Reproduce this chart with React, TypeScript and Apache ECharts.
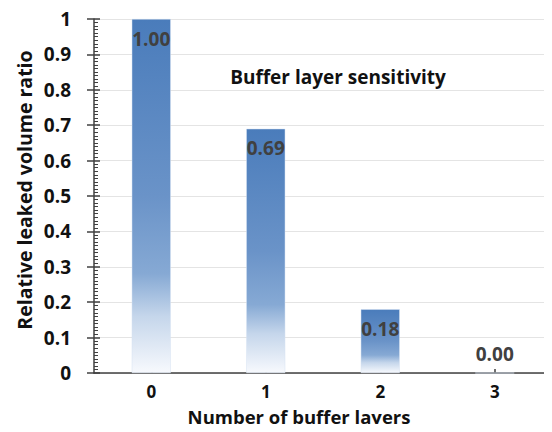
import React, { useEffect, useRef } from "react";
import * as echarts from "echarts";

// Buffer layer count vs. relative leaked volume
const layerCounts = ["0", "1", "2", "3"];
const leakedRatio = [1.0, 0.69, 0.18, 0.0];
const yTicks = { min: 0, max: 1, step: 0.1 };

const chartTitle = "Buffer layer sensitivity";
const xTitle = "Number of buffer layers";
const yTitle = "Relative leaked volume ratio";

const FONT = "'Open Sans', 'Noto Sans', sans-serif";

export default function App() {
  const ref = useRef<HTMLDivElement>(null);

  useEffect(() => {
    if (!ref.current) return;
    const chart = echarts.init(ref.current, null, { renderer: "svg" });

    const barFill = new echarts.graphic.LinearGradient(0, 0, 0, 1, [
      { offset: 0, color: "#4a7cbb" },
      { offset: 0.5, color: "#6a93c8" },
      { offset: 0.72, color: "#86a9d4" },
      { offset: 0.84, color: "#c5d6eb" },
      { offset: 1, color: "#f7f9fd" },
    ]);

    const grid = { left: 94, top: 19, bottom: 59, right: -10 };

    chart.setOption({
      animation: false,
      backgroundColor: "#ffffff",
      grid,
      xAxis: {
        type: "category",
        data: layerCounts,
        axisLine: { lineStyle: { color: "#404040", width: 1.5 } },
        axisTick: {
          show: true,
          inside: true,
          alignWithLabel: true,
          length: 4,
          lineStyle: { color: "#404040", width: 1.5 },
        },
        axisLabel: {
          fontFamily: FONT,
          fontWeight: "bold",
          fontSize: 17,
          color: "#111111",
          margin: 10,
        },
        splitLine: { show: false },
      },
      yAxis: [
        {
          type: "value",
          min: yTicks.min,
          max: yTicks.max,
          interval: yTicks.step,
          axisLine: { show: true, lineStyle: { color: "#404040", width: 1.5 } },
          axisTick: {
            show: true,
            inside: false,
            length: 7,
            lineStyle: { color: "#404040", width: 1.5 },
          },
          axisLabel: {
            fontFamily: FONT,
            fontWeight: "bold",
            fontSize: 19,
            color: "#111111",
            margin: 23,
            formatter: (v: number) => String(Math.round(v * 10) / 10),
          },
          splitLine: { show: true, lineStyle: { color: "#e4e4e4", width: 1 } },
        },
        {
          // overlay axis: inner half of the major ticks plus minor ticks
          type: "value",
          position: "left",
          min: yTicks.min,
          max: yTicks.max,
          interval: yTicks.step,
          axisLine: { show: false },
          axisLabel: { show: false },
          splitLine: { show: false },
          axisTick: {
            show: true,
            inside: true,
            length: 6,
            lineStyle: { color: "#404040", width: 1.5 },
          },
          minorTick: {
            show: true,
            splitNumber: 10,
            length: 4,
            lineStyle: { color: "#404040", width: 1 },
          },
        },
      ],
      series: [
        {
          type: "bar",
          yAxisIndex: 0,
          barWidth: 39,
          itemStyle: { color: barFill, borderColor: "#d6e2f2", borderWidth: 0.5 },
          label: {
            show: true,
            position: "insideTop",
            distance: 10,
            fontFamily: FONT,
            fontWeight: "bold",
            fontSize: 19,
            color: "#404040",
            formatter: (p: any) => Number(p.value).toFixed(2),
          },
          data: leakedRatio.map((v) =>
            v === 0 ? { value: v, label: { position: "top", distance: 9 } } : { value: v }
          ),
        },
      ],
      graphic: [
        {
          type: "text",
          x: 338,
          y: 77,
          style: {
            text: chartTitle,
            fontFamily: FONT,
            fontWeight: "bold",
            fontSize: 19,
            fill: "#111111",
            textAlign: "center",
            textVerticalAlign: "middle",
          },
        },
        {
          type: "text",
          x: 299,
          y: 416,
          style: {
            text: xTitle,
            fontFamily: FONT,
            fontWeight: "bold",
            fontSize: 18.5,
            fill: "#111111",
            textAlign: "center",
            textVerticalAlign: "middle",
          },
        },
        {
          type: "text",
          x: 24,
          y: 190,
          rotation: Math.PI / 2,
          style: {
            text: yTitle,
            fontFamily: FONT,
            fontWeight: "bold",
            fontSize: 19.5,
            fill: "#111111",
            textAlign: "center",
            textVerticalAlign: "middle",
          },
        },
      ],
    });

    return () => chart.dispose();
  }, []);

  return <div ref={ref} style={{ width: 552, height: 432, margin: -8 }} />;
}
